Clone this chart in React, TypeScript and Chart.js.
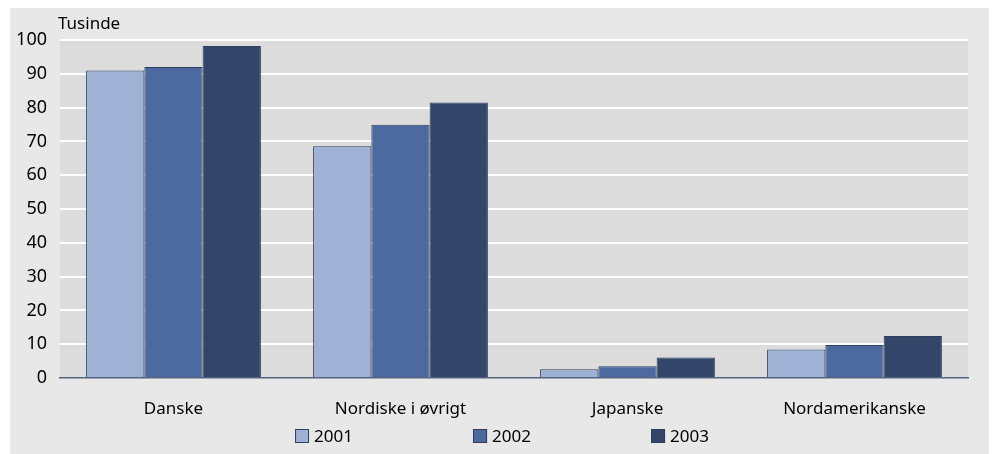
import React, { useEffect, useRef } from "react";
import { Chart, registerables } from "chart.js";

Chart.register(...registerables);

const categories = ["Danske", "Nordiske i øvrigt", "Japanske", "Nordamerikanske"];
const seriesLabels = ["2001", "2002", "2003"];
const values2001 = [91, 68.6, 2.6, 8.4];
const values2002 = [92, 74.9, 3.5, 9.8];
const values2003 = [98.2, 81.5, 6.1, 12.4];
const seriesColors = ["#9fb1d5", "#4d6aa0", "#334669"];
const yTitle = "Tusinde";

const FONT = "'Noto Sans', 'Open Sans', sans-serif";

const bgPlugin = {
  id: "plotBg",
  beforeDraw(chart: any) {
    const { ctx, chartArea } = chart;
    ctx.save();
    ctx.fillStyle = "#dcdcdc";
    ctx.fillRect(chartArea.left, chartArea.top, chartArea.right - chartArea.left, chartArea.bottom - chartArea.top);
    ctx.restore();
  },
};

const extrasPlugin = {
  id: "extras",
  afterDraw(chart: any) {
    const { ctx, chartArea, width } = chart;
    ctx.save();
    ctx.fillStyle = "#000";
    ctx.font = `17px ${FONT}`;
    ctx.textAlign = "left";
    ctx.textBaseline = "alphabetic";
    ctx.fillText(yTitle, chartArea.left - 2, 21);

    // legend
    ctx.font = `17px ${FONT}`;
    ctx.textBaseline = "middle";
    const spacing = 178;
    const cy = 428;
    chart.data.datasets.forEach((ds: any, i: number) => {
      const tw = ctx.measureText(ds.label).width;
      const box = 14;
      const gap = 5;
      const itemW = box + gap + tw;
      const cx = width / 2 + (i - 1) * spacing;
      const x0 = cx - itemW / 2;
      ctx.fillStyle = ds.backgroundColor;
      ctx.fillRect(x0, cy - box / 2, box, box);
      ctx.strokeStyle = "#2f3e5c";
      ctx.lineWidth = 1;
      ctx.strokeRect(x0 + 0.5, cy - box / 2 + 0.5, box - 1, box - 1);
      ctx.fillStyle = "#000";
      ctx.fillText(ds.label, x0 + box + gap, cy + 1);
    });
    ctx.restore();
  },
};

export default function App() {
  const ref = useRef<HTMLCanvasElement | null>(null);
  useEffect(() => {
    if (!ref.current) return;
    const series = [values2001, values2002, values2003];
    const chart = new Chart(ref.current, {
      type: "bar",
      data: {
        labels: categories,
        datasets: series.map((vals, i) => ({
          label: seriesLabels[i],
          data: vals,
          backgroundColor: seriesColors[i],
          borderColor: "#2f3e5c",
          borderWidth: 1,
          categoryPercentage: 0.77,
          barPercentage: 1,
        })),
      },
      options: {
        animation: false,
        responsive: true,
        maintainAspectRatio: false,
        layout: { padding: { top: 32, right: 26, left: 0, bottom: 0 } },
        plugins: {
          legend: { display: false },
          tooltip: { enabled: false },
          title: { display: false },
        },
        scales: {
          x: {
            afterFit: (s: any) => {
              s.height = 76;
            },
            grid: { display: false, drawTicks: false },
            border: { display: true, color: "#54647f", width: 1.5 },
            ticks: {
              padding: 21,
              color: "#000",
              font: { family: FONT, size: 17 },
            },
          },
          y: {
            min: 0,
            max: 100,
            afterFit: (s: any) => {
              s.width = 50;
            },
            border: { display: false },
            grid: {
              drawTicks: false,
              color: (c: any) => (c.tick && c.tick.value === 0 ? "rgba(0,0,0,0)" : "#ffffff"),
              lineWidth: 2,
            },
            ticks: {
              stepSize: 10,
              padding: 13,
              color: "#000",
              font: { family: FONT, size: 18 },
            },
          },
        },
      },
      plugins: [bgPlugin, extrasPlugin],
    });
    return () => chart.destroy();
  }, []);

  return (
    <div
      style={{
        marginLeft: 2,
        width: 984,
        height: 446,
        background: "#e8e8e8",
        position: "relative",
      }}
    >
      <canvas ref={ref} />
    </div>
  );
}
